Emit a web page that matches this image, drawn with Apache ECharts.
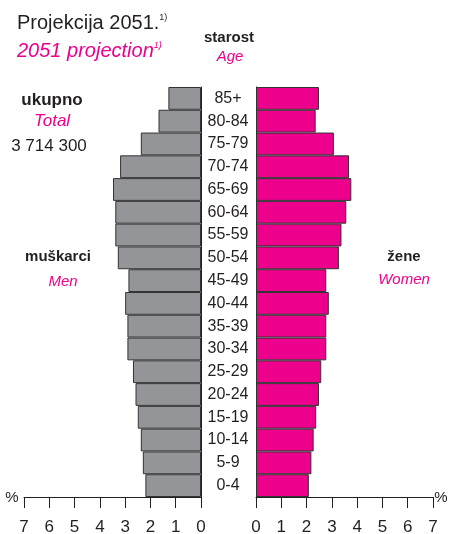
<!DOCTYPE html>
<html>
<head>
<meta charset="utf-8">
<script src="https://cdn.jsdelivr.net/npm/echarts@6/dist/echarts.min.js"></script>
<style>
  html, body { margin: 0; padding: 0; background: #fff; }
  #chart { width: 450px; height: 534px; }
</style>
</head>
<body>
<div id="chart"></div>
<script>
var myChart = echarts.init(document.getElementById('chart'));

var ages = ['0-4', '5-9', '10-14', '15-19', '20-24', '25-29', '30-34', '35-39', '40-44',
            '45-49', '50-54', '55-59', '60-64', '65-69', '70-74', '75-79', '80-84', '85+'];
var men = [2.2, 2.3, 2.38, 2.5, 2.59, 2.69, 2.91, 2.91, 3.0,
           2.87, 3.29, 3.39, 3.39, 3.48, 3.2, 2.38, 1.68, 1.29];
var women = [2.09, 2.19, 2.28, 2.38, 2.49, 2.58, 2.78, 2.78, 2.88,
             2.78, 3.28, 3.38, 3.57, 3.77, 3.68, 3.08, 2.36, 2.49];
var ticks = [0, 1, 2, 3, 4, 5, 6, 7];

var font = '"Liberation Sans", Arial, sans-serif';
var dark = '#231f20';
var pink = '#ec008c';

function valueAxis(gridIndex, inverse) {
    return {
        type: 'value', gridIndex: gridIndex, inverse: inverse,
        min: ticks[0], max: ticks[ticks.length - 1], interval: 1,
        position: 'bottom',
        axisLine: {show: true, lineStyle: {color: dark, width: 1}},
        axisTick: {show: true, length: 11, lineStyle: {color: dark}},
        axisLabel: {color: dark, fontSize: 17, fontFamily: font, margin: 22},
        splitLine: {show: false}
    };
}

function label(text, x, y, style, color) {
    return {type: 'text', x: x, y: y, style: {
        text: text, fill: color, font: style + ' ' + font,
        textAlign: 'center', textVerticalAlign: 'middle'}};
}

option = {
    animation: false,
    grid: [
        {left: 24, width: 177, top: 87, height: 410, outerBoundsMode: 'none'},
        {left: 256, width: 177, top: 87, height: 410, outerBoundsMode: 'none'}
    ],
    xAxis: [valueAxis(0, true), valueAxis(1, false)],
    yAxis: [
        {
            type: 'category', gridIndex: 0, data: ages, position: 'right',
            axisLine: {show: true, lineStyle: {color: dark}},
            axisTick: {show: false}, axisLabel: {show: false}
        },
        {
            type: 'category', gridIndex: 1, data: ages, position: 'left',
            axisLine: {show: true, lineStyle: {color: dark}},
            axisTick: {show: false},
            axisLabel: {color: dark, fontSize: 16, fontFamily: font, align: 'center',
                        margin: 28, interval: 0}
        }
    ],
    series: [
        {
            name: 'muškarci', type: 'bar', xAxisIndex: 0, yAxisIndex: 0, data: men,
            barCategoryGap: '0%',
            itemStyle: {color: '#939598', borderColor: '#333', borderWidth: 1}
        },
        {
            name: 'žene', type: 'bar', xAxisIndex: 1, yAxisIndex: 1, data: women,
            barCategoryGap: '0%',
            itemStyle: {color: pink, borderColor: '#333', borderWidth: 1}
        }
    ],
    graphic: [
        {type: 'text', left: 17, top: 13, style: {
            text: '{m|Projekcija 2051.}{s|1)}',
            rich: {m: {fontSize: 20, fill: dark, fontFamily: font},
                   s: {fontSize: 9, fill: dark, fontFamily: font, verticalAlign: 'top'}}}},
        {type: 'text', left: 17, top: 41, style: {
            text: '{m|2051 projection}{s|1)}',
            rich: {m: {fontSize: 20, fill: pink, fontStyle: 'italic', fontFamily: font},
                   s: {fontSize: 9, fill: pink, fontStyle: 'italic', fontFamily: font, verticalAlign: 'top'}}}},
        label('starost', 229, 38, 'bold 15px', dark),
        label('Age', 230, 57, 'italic 15px', pink),
        label('ukupno', 52, 100, 'bold 17px', dark),
        label('Total', 52, 121, 'italic 17px', pink),
        label('3 714 300', 49, 146, '17px', dark),
        label('muškarci', 58, 257, 'bold 15px', dark),
        label('Men', 63, 282, 'italic 15px', pink),
        label('žene', 404, 257, 'bold 15px', dark),
        label('Women', 404, 280, 'italic 15px', pink),
        label('%', 12, 498, '15px', dark),
        label('%', 441, 498, '15px', dark)
    ]
};
myChart.setOption(option);
</script>
</body>
</html>
